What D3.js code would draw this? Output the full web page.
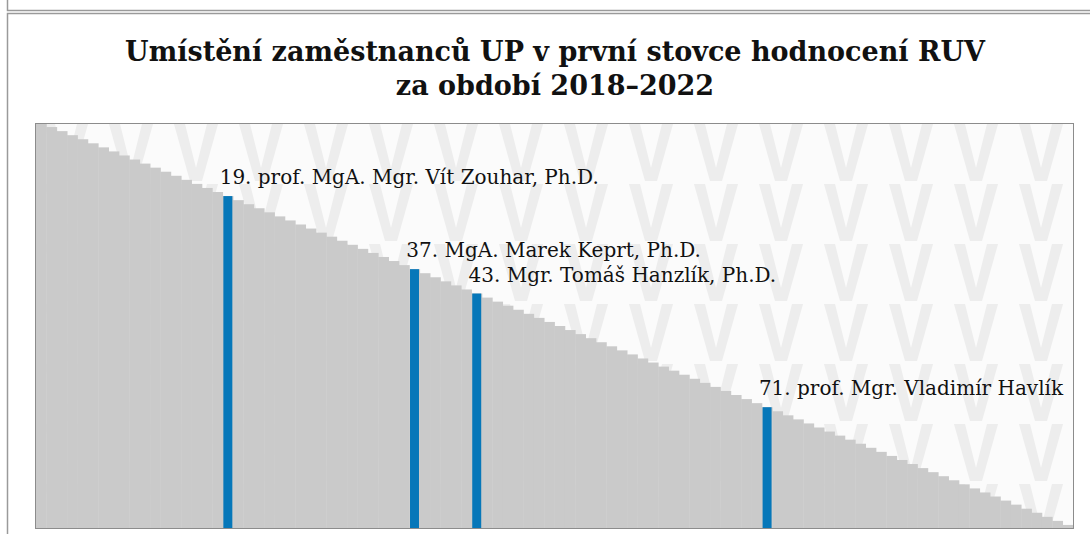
<!DOCTYPE html>
<html lang="cs">

<head>
    <meta charset="UTF-8">
    <script src="https://d3js.org/d3.v7.min.js"></script>
    <style>
        body {
            margin: 0;
            background: #fff;
        }
    </style>
    <title>RUV</title>
</head>

<body>
    <div class="canvas"></div>
    <script>
        // pořadí 1..100 a "skóre" (výška sloupce = 101 - pořadí)
        const ranks = [
            1, 2, 3, 4, 5, 6, 7, 8, 9, 10, 11, 12, 13, 14, 15, 16, 17, 18, 19, 20,
            21, 22, 23, 24, 25, 26, 27, 28, 29, 30, 31, 32, 33, 34, 35, 36, 37, 38, 39, 40,
            41, 42, 43, 44, 45, 46, 47, 48, 49, 50, 51, 52, 53, 54, 55, 56, 57, 58, 59, 60,
            61, 62, 63, 64, 65, 66, 67, 68, 69, 70, 71, 72, 73, 74, 75, 76, 77, 78, 79, 80,
            81, 82, 83, 84, 85, 86, 87, 88, 89, 90, 91, 92, 93, 94, 95, 96, 97, 98, 99, 100
        ]
        const scores = [
            100, 99, 98, 97, 96, 95, 94, 93, 92, 91, 90, 89, 88, 87, 86, 85, 84, 83, 82, 81,
            80, 79, 78, 77, 76, 75, 74, 73, 72, 71, 70, 69, 68, 67, 66, 65, 64, 63, 62, 61,
            60, 59, 58, 57, 56, 55, 54, 53, 52, 51, 50, 49, 48, 47, 46, 45, 44, 43, 42, 41,
            40, 39, 38, 37, 36, 35, 34, 33, 32, 31, 30, 29, 28, 27, 26, 25, 24, 23, 22, 21,
            20, 19, 18, 17, 16, 15, 14, 13, 12, 11, 10, 9, 8, 7, 6, 5, 4, 3, 2, 1
        ]
        const highlightRanks = [19, 37, 43, 71]
        const highlightNames = [
            'prof. MgA. Mgr. Vít Zouhar, Ph.D.',
            'MgA. Marek Keprt, Ph.D.',
            'Mgr. Tomáš Hanzlík, Ph.D.',
            'prof. Mgr. Vladimír Havlík'
        ]
        const titleLines = [
            'Umístění zaměstnanců UP v první stovce hodnocení RUV',
            'za období 2018–2022'
        ]

        const areaWidth = 1090
        const areaHeight = 534
        const svg = d3.select('.canvas')
            .append('svg')
            .attr('width', areaWidth)
            .attr('height', areaHeight)

        // rámečky stránky
        svg.append('path')
            .attr('d', 'M7.5,0 V10.5 H1090')
            .attr('fill', 'none')
            .attr('stroke', '#9a9a9a')
            .attr('stroke-width', 1.5)
        svg.append('path')
            .attr('d', 'M1090,13.5 H7.5 V534')
            .attr('fill', 'none')
            .attr('stroke', '#9a9a9a')
            .attr('stroke-width', 1.5)

        svg.append('text')
            .attr('text-anchor', 'middle')
            .style('font-family', '"DejaVu Serif", serif')
            .style('font-weight', 'bold')
            .style('font-size', '27px')
            .attr('fill', '#111')
            .selectAll('tspan')
            .data(titleLines)
            .enter()
            .append('tspan')
            .attr('x', 555)
            .attr('y', (d, i) => 61 + i * 34)
            .text(d => d)

        const [mt, mb, ml, mr] = [123, 5, 36, 17]
        const graphWidth = areaWidth - ml - mr
        const graphHeight = areaHeight - mt - mb

        const x = d3.scaleBand()
            .domain(ranks)
            .range([0, graphWidth])
            .padding(0)

        const y = d3.scaleLinear()
            .domain([0, 100])
            .range([graphHeight, 0])

        const graph = svg.append('g')
            .attr('transform', `translate(${ml},${mt})`)

        // vodoznak "V"
        const defs = svg.append('defs')
        const pw = 65, ph = 60
        const pat = defs.append('pattern')
            .attr('id', 'wm')
            .attr('patternUnits', 'userSpaceOnUse')
            .attr('x', 8)
            .attr('y', 1)
            .attr('width', pw)
            .attr('height', ph)
        pat.append('rect')
            .attr('width', pw)
            .attr('height', ph)
            .attr('fill', '#fbfbfb')
        pat.append('path')
            .attr('d', 'M0,0 H11 L22,44 L33,0 H44 L28,57 H16 Z')
            .attr('fill', '#ededed')

        graph.append('rect')
            .attr('width', graphWidth)
            .attr('height', graphHeight)
            .attr('fill', 'url(#wm)')

        const data = ranks.map((r, i) => ({ rank: r, score: scores[i] }))

        graph.selectAll('rect.bar')
            .data(data)
            .enter()
            .append('rect')
            .attr('class', 'bar')
            .attr('x', d => x(d.rank))
            .attr('y', d => y(d.score))
            .attr('width', x.bandwidth() + 0.4)
            .attr('height', d => graphHeight - y(d.score))
            .attr('fill', '#cacaca')

        const hl = highlightRanks.map((r, i) => ({ rank: r, score: scores[ranks.indexOf(r)], name: highlightNames[i] }))

        graph.selectAll('rect.hl')
            .data(hl)
            .enter()
            .append('rect')
            .attr('class', 'hl')
            .attr('x', d => x(d.rank) + 0.7)
            .attr('y', d => y(d.score))
            .attr('width', x.bandwidth() - 1.4)
            .attr('height', d => graphHeight - y(d.score))
            .attr('fill', '#0677b9')

        graph.selectAll('text.lbl')
            .data(hl)
            .enter()
            .append('text')
            .attr('class', 'lbl')
            .attr('x', d => x(d.rank) - 3)
            .attr('y', d => y(d.score) - 12)
            .style('font-family', '"DejaVu Serif", serif')
            .style('font-size', '20px')
            .attr('fill', '#111')
            .text(d => `${d.rank}. ${d.name}`)
            .each(function () {
                const el = d3.select(this)
                const w = this.getComputedTextLength()
                const x0 = +el.attr('x')
                if (x0 + w > graphWidth - 3) el.attr('x', graphWidth - 3 - w)
            })

        // rámeček grafu
        graph.append('rect')
            .attr('x', -0.5)
            .attr('y', 0.5)
            .attr('width', graphWidth + 1)
            .attr('height', graphHeight - 1)
            .attr('fill', 'none')
            .attr('stroke', '#8c8c8c')
            .attr('stroke-width', 1)
    </script>

</body>

</html>
